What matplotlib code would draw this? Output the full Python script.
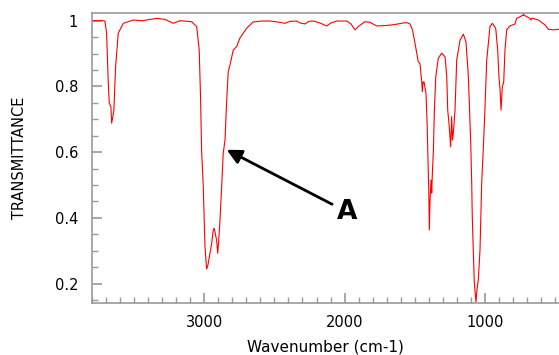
import matplotlib
matplotlib.use("Agg")
import matplotlib.pyplot as plt
from matplotlib.ticker import MultipleLocator, FixedLocator

wavenumber = [3803, 3720, 3708, 3696, 3684, 3677, 3665, 3660, 3653, 3644, 3632, 3613, 3577,
              3506, 3435, 3387, 3339, 3280, 3221, 3173, 3090, 3054, 3036, 3026, 3019, 3007,
              2995, 2983, 2974, 2947, 2936, 2929, 2912, 2904, 2897, 2888, 2876, 2865, 2852,
              2840, 2829, 2817, 2793, 2769, 2746, 2698, 2653, 2591, 2532, 2475, 2425, 2389,
              2341, 2318, 2282, 2254, 2223, 2175, 2128, 2097, 2056, 1985, 1954, 1926, 1897,
              1855, 1819, 1771, 1719, 1664, 1619, 1584, 1557, 1534, 1516, 1498, 1475, 1463,
              1450, 1446, 1441, 1434, 1420, 1411, 1404, 1400, 1396, 1391, 1384, 1379, 1375,
              1367, 1360, 1350, 1332, 1308, 1284, 1272, 1265, 1254, 1244, 1237, 1231, 1225,
              1213, 1201, 1177, 1154, 1135, 1118, 1101, 1094, 1090, 1083, 1076, 1071, 1064,
              1057, 1047, 1035, 1028, 1023, 1012, 1000, 987, 964, 947, 923, 909, 900, 892,
              885, 876, 866, 857, 845, 821, 786, 774, 727, 726, 722, 679, 672, 664, 619, 571,
              548, 512, 472]
transmittance = [1.000, 1.000, 0.999, 0.962, 0.809, 0.749, 0.738, 0.688, 0.704, 0.728, 0.860,
                 0.962, 0.992, 1.002, 1.000, 1.004, 1.007, 1.004, 0.992, 1.000, 0.997, 0.982,
                 0.911, 0.759, 0.606, 0.495, 0.312, 0.244, 0.256, 0.322, 0.363, 0.368, 0.332,
                 0.292, 0.332, 0.393, 0.495, 0.596, 0.637, 0.759, 0.845, 0.865, 0.911, 0.921,
                 0.947, 0.977, 0.996, 0.999, 0.999, 0.996, 0.992, 0.998, 0.999, 0.993, 0.990,
                 0.998, 0.999, 0.993, 0.984, 0.993, 0.999, 0.999, 0.990, 0.972, 0.984, 0.997,
                 0.995, 0.984, 0.985, 0.987, 0.990, 0.993, 0.994, 0.990, 0.972, 0.931, 0.875,
                 0.870, 0.814, 0.784, 0.813, 0.814, 0.779, 0.677, 0.545, 0.485, 0.363, 0.454,
                 0.515, 0.475, 0.530, 0.606, 0.728, 0.830, 0.886, 0.901, 0.890, 0.830, 0.728,
                 0.677, 0.616, 0.708, 0.637, 0.657, 0.728, 0.880, 0.941, 0.959, 0.936, 0.830,
                 0.627, 0.505, 0.403, 0.302, 0.205, 0.180, 0.144, 0.180, 0.211, 0.302, 0.424,
                 0.505, 0.606, 0.728, 0.880, 0.982, 0.992, 0.977, 0.911, 0.830, 0.789, 0.728,
                 0.799, 0.814, 0.911, 0.972, 0.984, 0.990, 1.007, 1.017, 1.023, 1.017, 1.007,
                 1.002, 1.008, 1.002, 0.987, 0.974, 0.972, 0.974]

yticks = [0.2, 0.4, 0.6, 0.8, 1.0]
ytick_labels = ["0.2", "0.4", "0.6", "0.8", "1"]
xticks = [3000, 2000, 1000]
xtick_labels = ["3000", "2000", "1000"]

fig = plt.figure(figsize=(5.59, 3.55), dpi=100)
ax = fig.add_axes([92 / 559, (355 - 302.7) / 355, 1 - 92 / 559, (302.7 - 13) / 355])

ax.plot(wavenumber, transmittance, color="red", lw=0.8)
ax.set_xlim(3800, 472)
ax.set_ylim(0.1416, 1.0234)

ax.xaxis.set_major_locator(FixedLocator(xticks))
ax.set_xticklabels(xtick_labels)
ax.xaxis.set_minor_locator(MultipleLocator(100))
ax.yaxis.set_major_locator(FixedLocator(yticks))
ax.set_yticklabels(ytick_labels)
ax.yaxis.set_minor_locator(MultipleLocator(0.05))

ax.tick_params(which="both", direction="in", color="#999999", labelsize=10.5,
               top=False, right=False)
ax.tick_params(which="major", length=7, width=1.2, pad=9)
ax.tick_params(which="minor", length=4, width=1)
ax.tick_params(axis="y", pad=10)

for s in ["right"]:
    ax.spines[s].set_visible(False)
for s in ["left", "bottom", "top"]:
    ax.spines[s].set_color("#999999")
    ax.spines[s].set_linewidth(1.2)

ax.set_ylabel("TRANSMITTANCE", fontsize=10.5)
ax.set_xlabel("Wavenumber (cm-1)", fontsize=11)
ax.yaxis.set_label_coords(-0.139, 0.5)
ax.xaxis.set_label_coords(0.5, -0.128)

ax.annotate("A", xy=(2840, 0.607), xytext=(1979, 0.417),
            ha="center", va="center", fontsize=19, fontweight="bold",
            arrowprops=dict(arrowstyle="-|>", color="black", lw=2,
                            mutation_scale=22, shrinkA=2, shrinkB=0))

fig.savefig("out.png", dpi=100)
